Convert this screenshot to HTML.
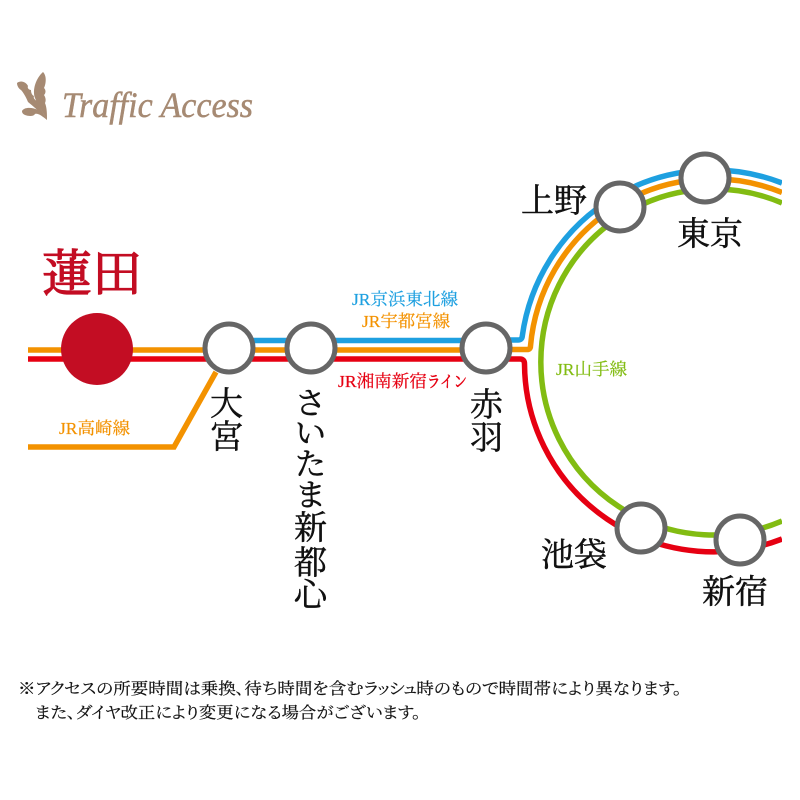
<!DOCTYPE html>
<html lang="ja">
<head>
<meta charset="utf-8">
<style>
html,body{margin:0;padding:0;background:#fff}
svg{display:block}
text{font-family:"Liberation Serif","Noto Serif CJK JP","Noto Serif CJK SC",serif}
</style>
</head>
<body>
<svg width="800" height="800" viewBox="0 0 800 800" xmlns="http://www.w3.org/2000/svg">
<defs><clipPath id="c"><rect x="0" y="0" width="782" height="800"/></clipPath></defs>
<g fill="#a68a73">
<path d="M43 72C47 76 46 84 44 88C46 90 46 93 44 95C46 98 46 101 45 103C47 108 47 114 47 120C43 112 38 106 35 98C32 90 36 78 43 72Z"/>
<path d="M17 83C21 80 26 82 28 86C27 88 29 90 31 90C31 93 32 95 34 96C33 98 35 100 37 101C38 105 43 112 47 120C40 112 33 106 28 102C26 97 23 92 21 90C19 89 17 86 17 83Z"/>
<path d="M22 111C24 107 32 107 38 110C42 112 45 116 47 120C42 116 38 113 35 114C33 117 28 116 25 115C23 114 22 113 22 111Z"/>
</g>
<text x="62" y="117" textLength="191" lengthAdjust="spacingAndGlyphs" fill="#a68a73" stroke="#a68a73" stroke-width="0.5" font-size="36" font-style="italic" style="font-family:'Liberation Serif',serif">Traffic Access</text>
<g fill="none" stroke-width="5.500">
<g clip-path="url(#c)">
<path d="M486 340H518Q522 340 522.300 336A192 192 0 0 1 782 183" stroke="#1ea0e0"/>
<path d="M486 349.500H527Q530.500 349.500 530.500 346A183 183 0 0 1 782 192.500" stroke="#f39200"/>
<path d="M782 203A173 173 0 1 0 782 521" stroke="#82bc12"/>
<path d="M486 359H520Q524.500 359 524.500 364A189 189 0 0 0 782 539" stroke="#e60012"/>
</g>
<path d="M28 350H229" stroke="#f39200"/>
<path d="M28 359H229" stroke="#e60012"/>
<path d="M28 447H174L216 372" stroke="#f39200"/>
<path d="M229 340.500H486" stroke="#1ea0e0"/>
<path d="M229 350H486" stroke="#f39200"/>
<path d="M229 359H486" stroke="#e60012"/>
</g>
<circle cx="97" cy="349" r="36" fill="#c30d23"/>
<g fill="#fff" stroke="#666" stroke-width="5">
<circle cx="229" cy="348" r="24"/>
<circle cx="311" cy="348" r="24"/>
<circle cx="486" cy="348" r="24"/>
<circle cx="620" cy="207" r="24"/>
<circle cx="705" cy="178" r="24"/>
<circle cx="641" cy="528" r="24"/>
<circle cx="740" cy="540" r="24"/>
</g>
<text x="42" y="291" font-size="50" fill="#c30d23" stroke="#c30d23" stroke-width="1.200" textLength="100" lengthAdjust="spacingAndGlyphs">蓮田</text>
<g font-size="33" fill="#111" stroke="#111" stroke-width="0.5">
<text x="521" y="212">上野</text>
<text x="677" y="245">東京</text>
<text x="541" y="566">池袋</text>
<text x="702" y="603">新宿</text>
<text x="210" y="415">大</text>
<text x="210" y="448">宮</text>
<text x="470" y="416">赤</text>
<text x="470" y="449">羽</text>
<text x="295" y="414" font-size="31">さ</text>
<text x="295" y="444" font-size="31">い</text>
<text x="295" y="475" font-size="31">た</text>
<text x="295" y="506" font-size="31">ま</text>
<text x="294" y="539">新</text>
<text x="294" y="574">都</text>
<text x="294" y="606">心</text>
</g>
<g font-size="17" stroke-width="0.2">
<text x="352" y="305" fill="#1ea0e0" stroke="#1ea0e0" textLength="106" lengthAdjust="spacingAndGlyphs">JR京浜東北線</text>
<text x="362" y="327" fill="#f39200" stroke="#f39200" textLength="88" lengthAdjust="spacingAndGlyphs">JR宇都宮線</text>
<text x="338" y="387" fill="#e60012" stroke="#e60012" textLength="89" lengthAdjust="spacingAndGlyphs">JR湘南新宿</text>
<text x="427" y="387" fill="#e60012" stroke="#e60012" stroke-width="0.5" font-size="16" textLength="40" lengthAdjust="spacingAndGlyphs">ライン</text>
<text x="59" y="434" fill="#f39200" stroke="#f39200" textLength="71" lengthAdjust="spacingAndGlyphs">JR高崎線</text>
<text x="556" y="375" fill="#82bc12" stroke="#82bc12" textLength="71" lengthAdjust="spacingAndGlyphs">JR山手線</text>
</g>
<g font-size="16" fill="#111" stroke="#111" stroke-width="0.2" style="font-feature-settings:'palt'">
<text x="18" y="694" textLength="664" lengthAdjust="spacingAndGlyphs">※アクセスの所要時間は乗換、待ち時間を含むラッシュ時のもので時間帯により異なります。</text>
<text x="35" y="718" textLength="386" lengthAdjust="spacingAndGlyphs">また、ダイヤ改正により変更になる場合がございます。</text>
</g>
</svg>
</body>
</html>
